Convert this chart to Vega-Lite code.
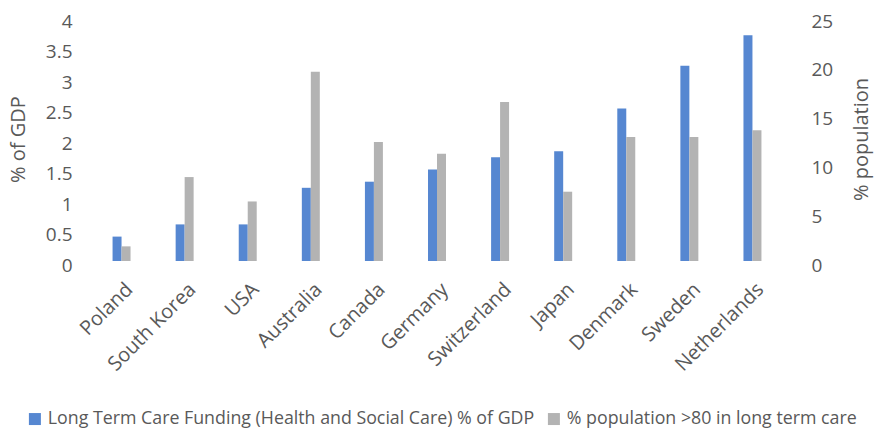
{
  "$schema": "https://vega.github.io/schema/vega-lite/v6.json",
  "width": 694,
  "height": 244,
  "autosize": {"type": "none"},
  "padding": {"left": 90, "top": 17, "right": 90, "bottom": 169},
  "background": "white",
  "config": {
    "view": {"stroke": null},
    "font": "Open Sans",
    "axis": {
      "grid": false,
      "domain": false,
      "ticks": false,
      "labelColor": "#595959",
      "titleColor": "#595959",
      "titleFontWeight": "normal"
    }
  },
  "data": {
    "values": [
      {"country": "Poland", "series": "Long Term Care Funding (Health and Social Care) % of GDP", "value": 0.4},
      {"country": "South Korea", "series": "Long Term Care Funding (Health and Social Care) % of GDP", "value": 0.6},
      {"country": "USA", "series": "Long Term Care Funding (Health and Social Care) % of GDP", "value": 0.6},
      {"country": "Australia", "series": "Long Term Care Funding (Health and Social Care) % of GDP", "value": 1.2},
      {"country": "Canada", "series": "Long Term Care Funding (Health and Social Care) % of GDP", "value": 1.3},
      {"country": "Germany", "series": "Long Term Care Funding (Health and Social Care) % of GDP", "value": 1.5},
      {"country": "Switzerland", "series": "Long Term Care Funding (Health and Social Care) % of GDP", "value": 1.7},
      {"country": "Japan", "series": "Long Term Care Funding (Health and Social Care) % of GDP", "value": 1.8},
      {"country": "Denmark", "series": "Long Term Care Funding (Health and Social Care) % of GDP", "value": 2.5},
      {"country": "Sweden", "series": "Long Term Care Funding (Health and Social Care) % of GDP", "value": 3.2},
      {"country": "Netherlands", "series": "Long Term Care Funding (Health and Social Care) % of GDP", "value": 3.7},
      {"country": "Poland", "series": "% population >80 in long term care", "value": 1.5},
      {"country": "South Korea", "series": "% population >80 in long term care", "value": 8.6},
      {"country": "USA", "series": "% population >80 in long term care", "value": 6.1},
      {"country": "Australia", "series": "% population >80 in long term care", "value": 19.4},
      {"country": "Canada", "series": "% population >80 in long term care", "value": 12.2},
      {"country": "Germany", "series": "% population >80 in long term care", "value": 11.0},
      {"country": "Switzerland", "series": "% population >80 in long term care", "value": 16.3},
      {"country": "Japan", "series": "% population >80 in long term care", "value": 7.1},
      {"country": "Denmark", "series": "% population >80 in long term care", "value": 12.7},
      {"country": "Sweden", "series": "% population >80 in long term care", "value": 12.7},
      {"country": "Netherlands", "series": "% population >80 in long term care", "value": 13.4}
    ]
  },
  "encoding": {
    "x": {
      "field": "country",
      "type": "nominal",
      "sort": null,
      "scale": {"paddingInner": 0.715, "paddingOuter": 0.3575},
      "axis": {
        "title": null,
        "labelAngle": -45,
        "labelFontSize": 20,
        "labelPadding": 18,
        "labelOffset": 1
      }
    },
    "xOffset": {
      "field": "series",
      "type": "nominal",
      "scale": {
        "domain": ["Long Term Care Funding (Health and Social Care) % of GDP", "% population >80 in long term care"],
        "paddingInner": 0,
        "paddingOuter": 0
      }
    },
    "color": {
      "field": "series",
      "type": "nominal",
      "scale": {
        "domain": ["Long Term Care Funding (Health and Social Care) % of GDP", "% population >80 in long term care"],
        "range": ["#5687d1", "#b3b3b3"]
      },
      "legend": {
        "title": null,
        "orient": "none",
        "direction": "horizontal",
        "legendX": -64,
        "legendY": 393,
        "symbolType": "square",
        "symbolSize": 144,
        "symbolStrokeWidth": 0,
        "labelFontSize": 17.8,
        "labelColor": "#595959",
        "labelLimit": 0,
        "columnPadding": 10,
        "labelOffset": 4
      }
    }
  },
  "layer": [
    {
      "transform": [{"filter": "datum.series == 'Long Term Care Funding (Health and Social Care) % of GDP'"}],
      "mark": {"type": "bar"},
      "encoding": {
        "y": {
          "field": "value",
          "type": "quantitative",
          "scale": {"domain": [0, 4], "nice": false},
          "axis": {
            "title": "% of GDP",
            "orient": "left",
            "values": [0, 0.5, 1, 1.5, 2, 2.5, 3, 3.5, 4],
            "format": "~g",
            "labelFontSize": 19,
            "labelPadding": 18,
            "labelOffset": 4,
            "titleFontSize": 20,
            "titlePadding": 17
          }
        }
      }
    },
    {
      "transform": [{"filter": "datum.series == '% population >80 in long term care'"}],
      "mark": {"type": "bar"},
      "encoding": {
        "y": {
          "field": "value",
          "type": "quantitative",
          "scale": {"domain": [0, 25], "nice": false},
          "axis": {
            "title": "% population",
            "orient": "right",
            "values": [0, 5, 10, 15, 20, 25],
            "labelFontSize": 19,
            "labelPadding": 27,
            "labelOffset": 4,
            "titleFontSize": 20,
            "titleAngle": -90,
            "titlePadding": 39
          }
        }
      }
    }
  ],
  "resolve": {"scale": {"y": "independent"}, "axis": {"y": "independent"}}
}
